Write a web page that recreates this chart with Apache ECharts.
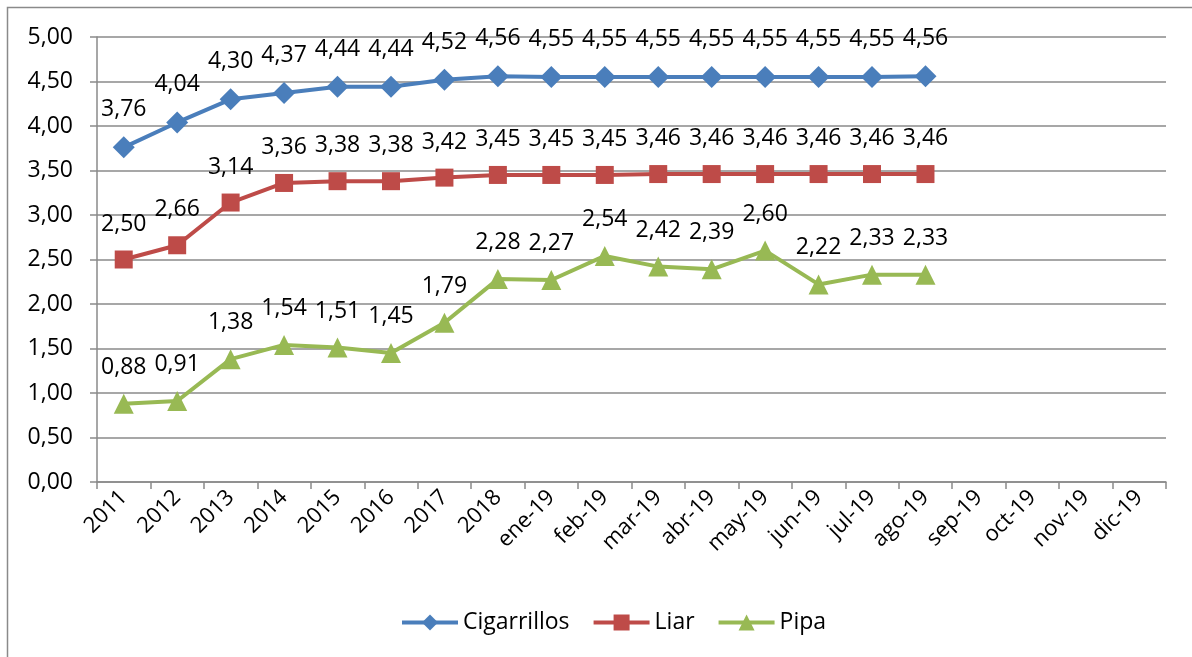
<!DOCTYPE html>
<html>
<head>
<meta charset="utf-8">
<script src="https://cdn.jsdelivr.net/npm/echarts@6/dist/echarts.min.js"></script>
<style>
  html, body { margin: 0; padding: 0; background: #fff; }
  #main { width: 1192px; height: 657px; }
</style>
</head>
<body>
<div id="main"></div>
<script>
// categorias del eje x
var categorias = ['2011', '2012', '2013', '2014', '2015', '2016', '2017', '2018',
    'ene-19', 'feb-19', 'mar-19', 'abr-19', 'may-19', 'jun-19', 'jul-19', 'ago-19',
    'sep-19', 'oct-19', 'nov-19', 'dic-19'];

// valores de cada serie
var cigarrillos = [3.76, 4.04, 4.30, 4.37, 4.44, 4.44, 4.52, 4.56, 4.55, 4.55, 4.55, 4.55, 4.55, 4.55, 4.55, 4.56];
var liar = [2.50, 2.66, 3.14, 3.36, 3.38, 3.38, 3.42, 3.45, 3.45, 3.45, 3.46, 3.46, 3.46, 3.46, 3.46, 3.46];
var pipa = [0.88, 0.91, 1.38, 1.54, 1.51, 1.45, 1.79, 2.28, 2.27, 2.54, 2.42, 2.39, 2.60, 2.22, 2.33, 2.33];

var fuente = '"Open Sans", sans-serif';
var gris = '#8a8a8a';

function coma(v) {
    return v.toFixed(2).replace('.', ',');
}

function serie(nombre, datos, color, simbolo, tam) {
    return {
        name: nombre,
        type: 'line',
        data: datos,
        symbol: simbolo,
        symbolSize: tam,
        color: color,
        lineStyle: { width: 4, color: color },
        itemStyle: { color: color },
        label: {
            show: true,
            position: 'top',
            distance: 15,
            color: '#000',
            fontFamily: fuente,
            fontSize: 23,
            formatter: function (p) { return coma(p.value); }
        },
        animation: false
    };
}

var chart = echarts.init(document.getElementById('main'));
chart.setOption({
    backgroundColor: '#fff',
    textStyle: { fontFamily: fuente },
    graphic: [{
        type: 'rect',
        shape: { x: 7.5, y: 7.5, width: 1200, height: 700 },
        style: { fill: 'none', stroke: gris, lineWidth: 1.5 },
        silent: true
    }],
    grid: { left: 97, right: 26, top: 37, bottom: 175 },
    legend: {
        bottom: 18,
        left: 395,
        itemWidth: 56,
        itemHeight: 20,
        itemGap: 22,
        lineStyle: { width: 4 },
        textStyle: { fontSize: 23, color: '#000', fontFamily: fuente },
        data: [
            { name: 'Cigarrillos', lineStyle: { width: 4 } },
            { name: 'Liar', lineStyle: { width: 4 } },
            { name: 'Pipa', lineStyle: { width: 4 } }
        ]
    },
    xAxis: {
        type: 'category',
        data: categorias,
        boundaryGap: true,
        axisLine: { show: true, lineStyle: { color: gris, width: 1.5 } },
        axisTick: { show: true, length: 7, lineStyle: { color: gris, width: 1.5 } },
        axisLabel: {
            interval: 0,
            rotate: 45,
            margin: 12,
            color: '#000',
            fontSize: 22,
            fontFamily: fuente
        }
    },
    yAxis: {
        type: 'value',
        min: 0,
        max: 5,
        interval: 0.5,
        axisLine: { show: true, lineStyle: { color: gris, width: 1.5 } },
        axisTick: { show: true, length: 7, lineStyle: { color: gris, width: 1.5 } },
        splitLine: { show: true, lineStyle: { color: gris, width: 1.5 } },
        axisLabel: {
            margin: 24,
            color: '#000',
            fontSize: 23,
            fontFamily: fuente,
            formatter: function (v) { return coma(v); }
        }
    },
    series: [
        serie('Cigarrillos', cigarrillos, '#4a7ebb', 'diamond', 22),
        serie('Liar', liar, '#be4b48', 'rect', 18),
        serie('Pipa', pipa, '#98b954', 'triangle', 20)
    ]
});
</script>
</body>
</html>
